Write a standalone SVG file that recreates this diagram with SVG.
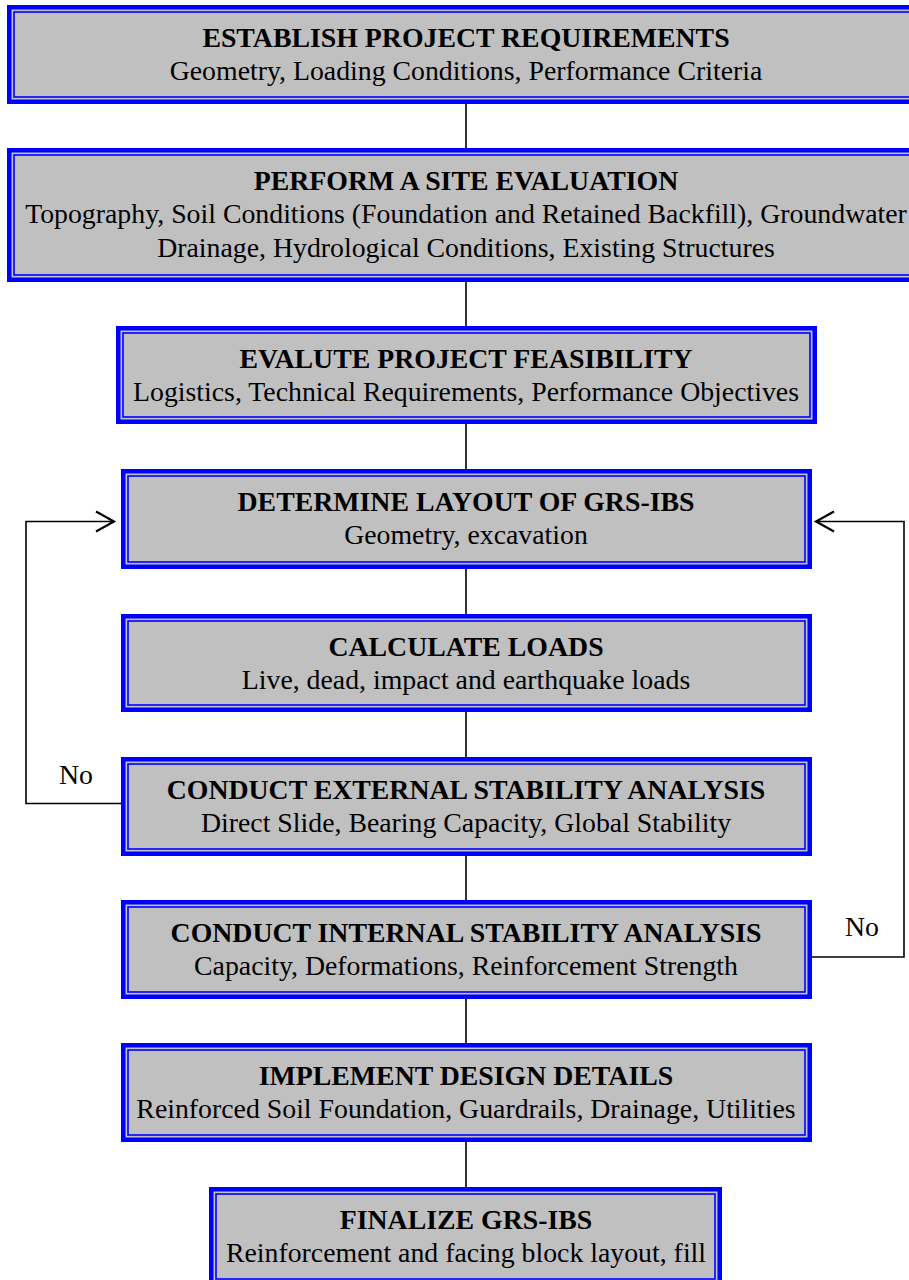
<svg xmlns="http://www.w3.org/2000/svg" width="909" height="1280" viewBox="0 0 909 1280">
<defs>
<style>
.o{fill:#0000FF}
.g{fill:#C0C0C0}
.i{fill:#C0C0C0;stroke:#0000FF;stroke-width:1.6}
.t{font-family:"Liberation Serif","Times New Roman",serif;font-size:27.8px;font-weight:bold;text-anchor:middle;fill:#000}
.s{font-family:"Liberation Serif","Times New Roman",serif;font-size:27.8px;text-anchor:middle;fill:#000}
.c{fill:none;stroke:#000;stroke-width:1.6}
</style>
<marker id="ah" markerWidth="22" markerHeight="24" refX="19" refY="12" orient="auto" markerUnits="userSpaceOnUse">
<path d="M1,2 L19,12 L1,22" fill="none" stroke="#000" stroke-width="2.2"/>
</marker>
</defs>
<g id="connectors">
<line class="c" x1="466" y1="104" x2="466" y2="148"/>
<line class="c" x1="466" y1="282" x2="466" y2="326"/>
<line class="c" x1="466" y1="424" x2="466" y2="469"/>
<line class="c" x1="466" y1="569" x2="466" y2="614"/>
<line class="c" x1="466" y1="712" x2="466" y2="757"/>
<line class="c" x1="466" y1="856" x2="466" y2="900"/>
<line class="c" x1="466" y1="999" x2="466" y2="1043"/>
<line class="c" x1="466" y1="1142" x2="466" y2="1187"/>
<polyline class="c" points="121,803.5 26,803.5 26,521.5 114,521.5" marker-end="url(#ah)"/>
<polyline class="c" points="812,957 904,957 904,521.5 816,521.5" marker-end="url(#ah)"/>
<text class="s" x="76" y="784">No</text>
<text class="s" x="862" y="936">No</text>
</g>
<g id="n1">
<rect class="o" x="7" y="5" width="918" height="99"/>
<rect class="g" x="11.5" y="9.5" width="909" height="90"/>
<rect class="i" x="14" y="12" width="904" height="85"/>
<text class="t" x="466" y="47">ESTABLISH PROJECT REQUIREMENTS</text>
<text class="s" x="466" y="80">Geometry, Loading Conditions, Performance Criteria</text>
</g>
<g id="n2">
<rect class="o" x="7" y="148" width="918" height="134"/>
<rect class="g" x="11.5" y="152.5" width="909" height="125"/>
<rect class="i" x="14" y="155" width="904" height="120"/>
<text class="t" x="466" y="190">PERFORM A SITE EVALUATION</text>
<text class="s" x="466" y="223">Topography, Soil Conditions (Foundation and Retained Backfill), Groundwater</text>
<text class="s" x="466" y="257">Drainage, Hydrological Conditions, Existing Structures</text>
</g>
<g id="n3">
<rect class="o" x="116" y="326" width="701" height="98"/>
<rect class="g" x="120.5" y="330.5" width="692" height="89"/>
<rect class="i" x="123" y="333" width="687" height="84"/>
<text class="t" x="466" y="368">EVALUTE PROJECT FEASIBILITY</text>
<text class="s" x="466" y="401">Logistics, Technical Requirements, Performance Objectives</text>
</g>
<g id="n4">
<rect class="o" x="121" y="469" width="691" height="100"/>
<rect class="g" x="125.5" y="473.5" width="682" height="91"/>
<rect class="i" x="128" y="476" width="677" height="86"/>
<text class="t" x="466" y="511">DETERMINE LAYOUT OF GRS-IBS</text>
<text class="s" x="466" y="544">Geometry, excavation</text>
</g>
<g id="n5">
<rect class="o" x="121" y="614" width="691" height="98"/>
<rect class="g" x="125.5" y="618.5" width="682" height="89"/>
<rect class="i" x="128" y="621" width="677" height="84"/>
<text class="t" x="466" y="656">CALCULATE LOADS</text>
<text class="s" x="466" y="689">Live, dead, impact and earthquake loads</text>
</g>
<g id="n6">
<rect class="o" x="121" y="757" width="691" height="99"/>
<rect class="g" x="125.5" y="761.5" width="682" height="90"/>
<rect class="i" x="128" y="764" width="677" height="85"/>
<text class="t" x="466" y="799">CONDUCT EXTERNAL STABILITY ANALYSIS</text>
<text class="s" x="466" y="832">Direct Slide, Bearing Capacity, Global Stability</text>
</g>
<g id="n7">
<rect class="o" x="121" y="900" width="691" height="99"/>
<rect class="g" x="125.5" y="904.5" width="682" height="90"/>
<rect class="i" x="128" y="907" width="677" height="85"/>
<text class="t" x="466" y="942">CONDUCT INTERNAL STABILITY ANALYSIS</text>
<text class="s" x="466" y="975">Capacity, Deformations, Reinforcement Strength</text>
</g>
<g id="n8">
<rect class="o" x="121" y="1043" width="691" height="99"/>
<rect class="g" x="125.5" y="1047.5" width="682" height="90"/>
<rect class="i" x="128" y="1050" width="677" height="85"/>
<text class="t" x="466" y="1085">IMPLEMENT DESIGN DETAILS</text>
<text class="s" x="466" y="1118">Reinforced Soil Foundation, Guardrails, Drainage, Utilities</text>
</g>
<g id="n9">
<rect class="o" x="209" y="1187" width="513" height="99"/>
<rect class="g" x="213.5" y="1191.5" width="504" height="90"/>
<rect class="i" x="216" y="1194" width="499" height="85"/>
<text class="t" x="466" y="1229">FINALIZE GRS-IBS</text>
<text class="s" x="466" y="1262">Reinforcement and facing block layout, fill</text>
</g>
</svg>
